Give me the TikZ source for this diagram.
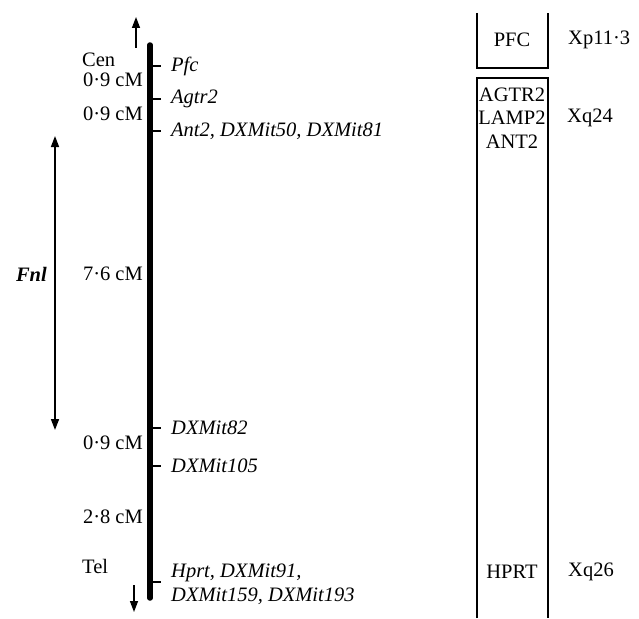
\documentclass[tikz,border=0pt]{standalone}
\usepackage{fontspec}
\setmainfont{Liberation Serif}
\usetikzlibrary{arrows.meta}
\begin{document}
\begin{tikzpicture}[x=1pt,y=-1pt,
  lbl/.style={font=\fontsize{20.5}{22}\selectfont, inner sep=0pt},
  gene/.style={lbl, font=\fontsize{20.5}{22}\selectfont\itshape, anchor=west},
  dist/.style={lbl, anchor=east},
  tick/.style={line width=1.3pt},
  tip/.tip={Triangle[width=8pt,length=11pt]},
  arr/.style={line width=1.4pt, -tip},
  boxline/.style={line width=1.2pt}]
\useasboundingbox (0,0) rectangle (639,618);
% chromosome bar
\coordinate (btop) at (150,45);
\coordinate (bbot) at (150,598);
\draw[line width=5.5pt, line cap=round] (btop) -- (bbot);
% end arrows
\coordinate (ua0) at (136,48); \coordinate (ua1) at (136,17);
\coordinate (da0) at (134,585); \coordinate (da1) at (134,612);
\draw[arr] (ua0) -- (ua1);
\draw[arr] (da0) -- (da1);
% ticks
\foreach \n/\y in {t1/66, t2/99, t3/131, t4/428, t5/466, t6/582}{
  \coordinate (\n a) at (152,\y); \coordinate (\n b) at (161,\y);
  \draw[tick] (\n a) -- (\n b);
}
% gene labels
\node[gene] (g1) at (171,66) {Pfc};
\node[gene] (g2) at (171,99) {Agtr2};
\node[gene] (g3) at (171,131) {Ant2, DXMit50, DXMit81};
\node[gene] (g4) at (171,428) {DXMit82};
\node[gene] (g5) at (171,466) {DXMit105};
\node[gene] (g6) at (171,573) {Hprt, DXMit91,};
\node[gene] (g7) at (171,596) {DXMit159, DXMit193};
% left labels
\node[lbl, anchor=west] (cen) at (82,60) {Cen};
\node[dist] (d1) at (143,80) {0·9 cM};
\node[dist] (d2) at (143,114) {0·9 cM};
\node[dist] (d3) at (143,274) {7·6 cM};
\node[dist] (d4) at (143,443) {0·9 cM};
\node[dist] (d5) at (143,517) {2·8 cM};
\node[lbl, anchor=west] (tel) at (82,566) {Tel};
% Fnl
\coordinate (f0) at (55,136); \coordinate (f1) at (55,430);
\draw[line width=1.6pt, tip-tip] (f0) -- (f1);
\node[lbl, anchor=east, font=\fontsize{20.5}{22}\selectfont\bfseries\itshape] (fnl) at (47,274) {Fnl};
% right boxes
\draw[boxline] (477,13) -- (477,68) -- (548,68) -- (548,13);
\draw[boxline] (477,618) -- (477,78) -- (548,78) -- (548,618);
\node[lbl] (pfc) at (512,40) {PFC};
\node[lbl, anchor=west] (xp) at (568,40) {Xp11·3};
\node[lbl] (agtr) at (512,95) {AGTR2};
\node[lbl] (lamp) at (512,118) {LAMP2};
\node[lbl] (ant) at (512,142) {ANT2};
\node[lbl, anchor=west] (xq24) at (567,118) {Xq24};
\node[lbl] (hprt) at (512,572) {HPRT};
\node[lbl, anchor=west] (xq26) at (568,572) {Xq26};
\end{tikzpicture}
\end{document}
